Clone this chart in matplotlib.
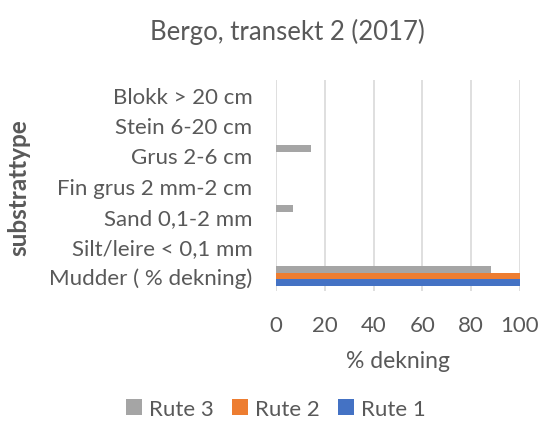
import numpy as np
import matplotlib.pyplot as plt

plt.rcParams['font.family'] = ['Lato', 'DejaVu Sans']

categories = ["Mudder ( % dekning)", "Silt/leire < 0,1 mm", "Sand 0,1-2 mm",
              "Fin grus 2 mm-2 cm", "Grus 2-6 cm", "Stein 6-20 cm", "Blokk > 20 cm"]
rute1 = [100, 0, 0, 0, 0, 0, 0]
rute2 = [100, 0, 0, 0, 0, 0, 0]
rute3 = [88, 0, 7, 0, 14.5, 0, 0]

txt = "#595959"
fig = plt.figure(figsize=(5.46, 4.27), dpi=100)
ax = fig.add_axes([0.5055, 0.316, 0.4465, 0.494])

y = np.arange(len(categories))
h = 0.23
ax.barh(y - h, rute1, height=h, color="#4472c4", label="Rute 1")
ax.barh(y, rute2, height=h, color="#ed7d31", label="Rute 2")
ax.barh(y + h, rute3, height=h, color="#a5a5a5", label="Rute 3")

ax.set_xlim(0, 100)
ax.set_ylim(-0.5, len(categories) - 0.5)
ax.set_xticks([0, 20, 40, 60, 80, 100])
ax.set_yticks(y)
ax.set_yticklabels(categories)
ax.tick_params(length=0, colors=txt, labelsize=16)
ax.tick_params(axis="y", pad=17)
ax.tick_params(axis="x", pad=17)
ax.grid(axis="x", color="#d9d9d9", linewidth=1.2)
ax.set_axisbelow(True)
for s in ax.spines.values():
    s.set_visible(False)

ax.set_xlabel("% dekning", fontsize=16.5, color=txt, labelpad=11)
fig.text(0.035, 0.56, "substrattype", rotation=90, fontsize=17.5, fontweight="bold",
         color=txt, ha="center", va="center")
fig.text(0.527, 0.925, "Bergo, transekt 2 (2017)", fontsize=18.5, color=txt,
         ha="center", va="center")

handles, labels = ax.get_legend_handles_labels()
fig.legend(handles[::-1], labels[::-1], loc="center", bbox_to_anchor=(0.505, 0.04),
           ncol=3, frameon=False, fontsize=16, labelcolor=txt,
           handlelength=0.75, handleheight=0.75, handletextpad=0.3, columnspacing=0.8)

fig.savefig("out.png", dpi=100)
